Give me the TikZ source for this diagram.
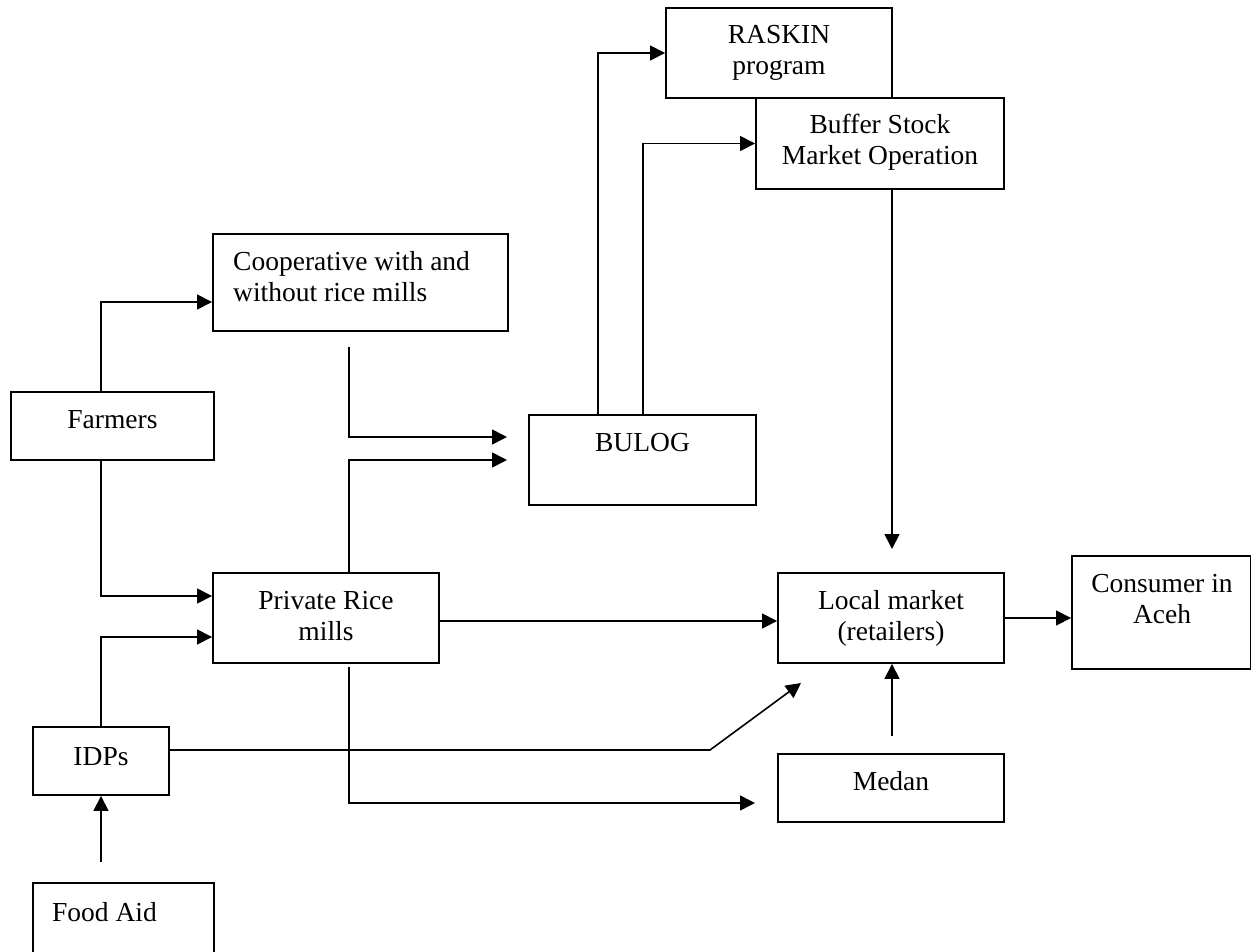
\documentclass[tikz,border=0pt]{standalone}
\usepackage{fontspec}
\setmainfont{Liberation Serif}
\usetikzlibrary{arrows.meta}
\begin{document}
\begin{tikzpicture}[x=1pt,y=-1pt,
  boxshape/.style={draw, line width=1.9pt, inner sep=0pt, rectangle},
  txt/.style={inner sep=0pt, font=\fontsize{27.5}{31.7}\selectfont, align=center, anchor=base},
  txtl/.style={inner sep=0pt, font=\fontsize{27.5}{31.7}\selectfont, align=left, anchor=base west},
  conn/.style={line width=1.6pt, -{Triangle[length=15pt,width=15pt]}},
  plain/.style={line width=1.6pt}]
\useasboundingbox[fill=white] (0,0) rectangle (1251,951);

% boxes
\node[boxshape, minimum width=226pt, minimum height=90pt] (raskin) at (779,53) {};
\node[boxshape, minimum width=248pt, minimum height=91pt] (buffer) at (880,143.5) {};
\node[boxshape, minimum width=295pt, minimum height=97pt] (coop) at (360.5,282.5) {};
\node[boxshape, minimum width=203pt, minimum height=68pt] (farmers) at (112.5,426) {};
\node[boxshape, minimum width=227pt, minimum height=90pt] (bulog) at (642.5,460) {};
\node[boxshape, minimum width=226pt, minimum height=90pt] (private) at (326,618) {};
\node[boxshape, minimum width=226pt, minimum height=90pt] (local) at (891,618) {};
\node[boxshape, minimum width=179pt, minimum height=113pt] (consumer) at (1161.5,612.5) {};
\node[boxshape, minimum width=136pt, minimum height=68pt] (idps) at (101,761) {};
\node[boxshape, minimum width=226pt, minimum height=68pt] (medan) at (891,788) {};
\node[boxshape, minimum width=181pt, minimum height=87pt] (foodaid) at (123.5,926.5) {};

% texts (multi-line nodes: base = last line's baseline)
\node[txt] (traskin) at (779,74.7) {RASKIN\\program};
\node[txt] (tbuffer) at (880,164.7) {Buffer Stock\\Market Operation};
\node[txtl] (tcoop) at (233,301.7) {Cooperative with and\\without rice mills};
\node[txt] (tfarmers) at (112.5,428) {Farmers};
\node[txt] (tbulog) at (642.5,451) {BULOG};
\node[txt] (tprivate) at (326,640.7) {Private Rice\\mills};
\node[txt] (tlocal) at (891,640.7) {Local market\\(retailers)};
\node[txt] (tconsumer) at (1162,623.7) {Consumer in\\Aceh};
\node[txt] (tidps) at (101,765) {IDPs};
\node[txt] (tmedan) at (891,790) {Medan};
\node[txtl] (tfood) at (52,921) {Food Aid};

% free ends
\coordinate (fa) at (101,862);
\coordinate (c1) at (349,347);
\coordinate (b1) at (507,437);
\coordinate (b2) at (507,460);
\coordinate (l1) at (892,549);
\coordinate (m1) at (892,736);
\coordinate (i1) at (710,750);
\coordinate (i2) at (801,683);
\coordinate (p1) at (349,667);
\coordinate (md) at (755,803);

% connectors
\draw[conn] (farmers.north -| 101,0) |- (coop.west |- 0,302);
\draw[conn] (farmers.south -| 101,0) |- (private.west |- 0,596);
\draw[conn] (idps.north) |- (private.west |- 0,637);
\draw[conn] (fa) -- (idps.south);
\draw[conn] (c1) |- (b1);
\draw[conn] (private.north -| 349,0) |- (b2);
\draw[conn] (bulog.north -| 598,0) |- (raskin.west);
\draw[conn] (bulog.north -| 643,0) |- (buffer.west);
\draw[conn] (buffer.south -| 892,0) -- (l1);
\draw[conn] (private.east |- 0,621) -- (local.west |- 0,621);
\draw[conn] (local.east |- 0,618) -- (consumer.west |- 0,618);
\draw[conn] (m1) -- (local.south -| 892,0);
\draw[conn] (idps.east |- 0,750) -- (i1) -- (i2);
\draw[conn] (p1) |- (md);
\end{tikzpicture}
\end{document}
